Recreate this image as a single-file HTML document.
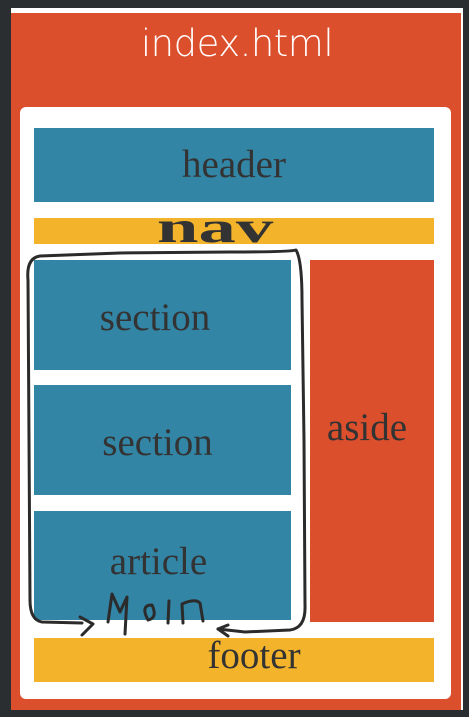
<!DOCTYPE html>
<html><head><meta charset="utf-8"><style>
body{margin:0;width:469px;height:717px;background:#2b2e31;position:relative;overflow:hidden;font-family:"Liberation Serif",serif}
div{position:absolute;box-sizing:border-box}
.b{background:#3385a6}.y{background:#f3b32a}
.t{color:#333;font-size:39px;display:flex;align-items:center;justify-content:center}
</style></head><body>
<div style="left:11px;top:8px;width:452px;height:702px;background:#fff"></div>
<div style="left:11px;top:13px;width:450px;height:697px;background:#dc4f2c"></div>
<div style="left:11px;top:22px;width:452px;text-align:center;color:#fff;font-family:'DejaVu Sans',sans-serif;font-size:37px;font-weight:200;letter-spacing:-0.5px;padding-left:0px">index.html</div>
<div style="left:20px;top:107px;width:431px;height:592px;background:#fff;border-radius:6px"></div>
<div class="b t" style="left:34px;top:128px;width:400px;height:74px;padding-bottom:2px">header</div>
<div class="y" style="left:34px;top:218px;width:400px;height:26px;overflow:hidden"><div style="left:146px;width:66px;top:-16px;text-align:center;font-size:44px;font-weight:bold;color:#333;transform:scaleX(1.7);transform-origin:center">nav</div></div>
<div class="b t" style="left:34px;top:260px;width:257px;height:110px;padding-right:15px;padding-top:4px">section</div>
<div class="b t" style="left:34px;top:385px;width:257px;height:110px;padding-right:10px;padding-top:4px">section</div>
<div class="b t" style="left:34px;top:511px;width:257px;height:109px;padding-bottom:8px;padding-right:8px">article</div>
<div class="t" style="left:310px;top:260px;width:124px;height:362px;background:#dc4f2c;padding-bottom:28px;padding-right:10px">aside</div>
<div class="y t" style="left:34px;top:638px;width:400px;height:44px;padding-left:40px;padding-bottom:10px">footer</div>
<svg width="469" height="717" style="position:absolute;left:0;top:0" fill="none" stroke="#2b2b2b" stroke-width="3" stroke-linecap="round" stroke-linejoin="round">
<path d="M82 623 L42 622 Q30 620 30 600 L28 280 Q26 258 40 256 L120 253 L230 252 Q290 252 296 250 Q302 260 302 300 L304 440 L305 605 Q306 628 290 630 L245 632 L218 629"/>
<path d="M80 617 L93 624 L82 635"/>
<path d="M218 629 L228 625 M218 629 L228 636"/>
<path d="M108 622 L112 594 L120 612 L127 597 L125 634"/>
<path d="M148 620 Q140 605 152 605 Q158 618 148 620"/>
<path d="M169 601 L168 623"/>
<path d="M183 623 L182 604 Q195 598 200 603 L203 621"/>
</svg>
</body></html>
